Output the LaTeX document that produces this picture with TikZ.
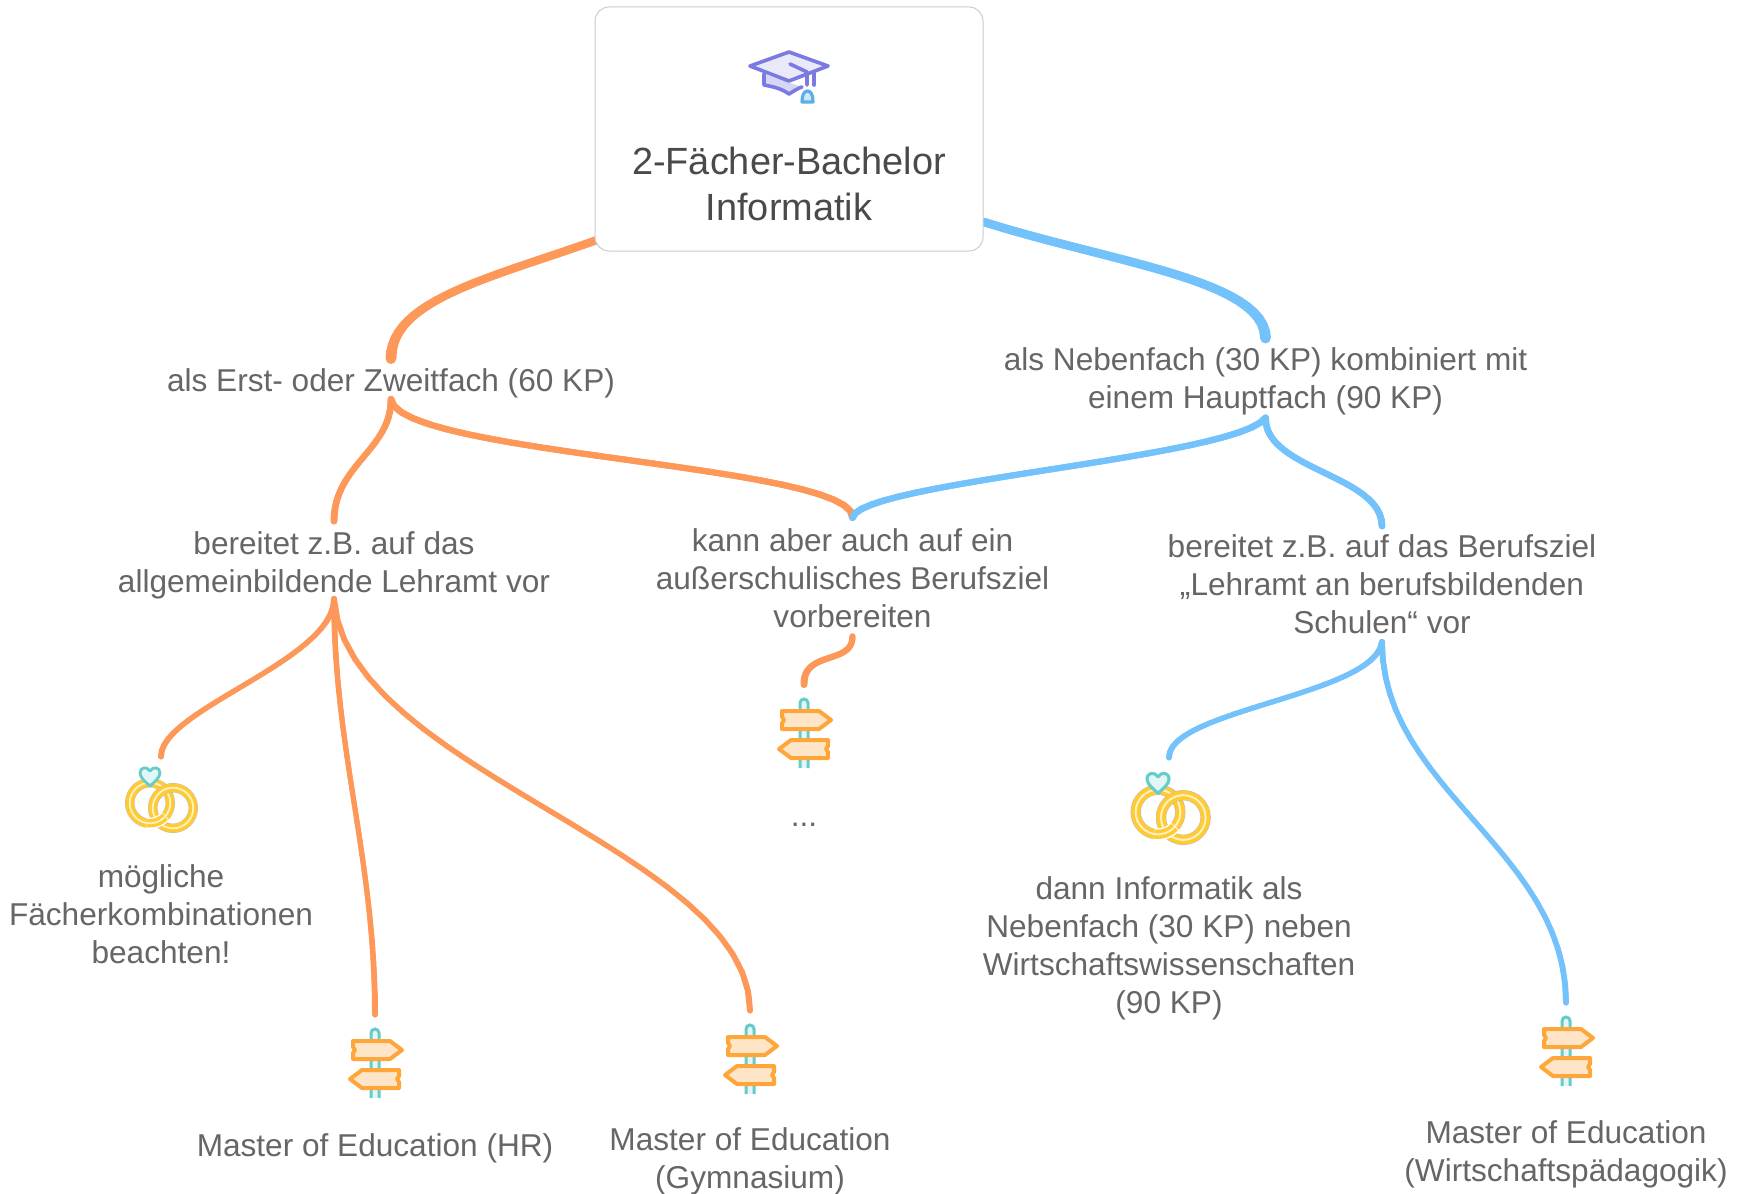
\documentclass[tikz,border=0pt]{standalone}
\usepackage{fontspec}
\setmainfont{Liberation Sans}
\definecolor{orangeline}{HTML}{FD9858}
\definecolor{blueline}{HTML}{73C2FB}
\definecolor{txtgray}{HTML}{666666}
\definecolor{rootgray}{HTML}{4A4A4A}
\definecolor{capline}{HTML}{7A7AE2}
\definecolor{capfill}{HTML}{E9E9FA}
\definecolor{capfilld}{HTML}{D6D6F5}
\definecolor{tassel}{HTML}{5CAEE8}
\definecolor{tasself}{HTML}{CFE8F9}
\definecolor{ringy}{HTML}{FFCB30}
\definecolor{ringl}{HTML}{FFF1C4}
\definecolor{teal}{HTML}{66CBCB}
\definecolor{teall}{HTML}{E3F6F6}
\definecolor{boardo}{HTML}{FFA63A}
\definecolor{boardf}{HTML}{FFE5C8}
\tikzset{
  x=0.5pt,y=-0.5pt,
  lbl/.style={text=txtgray,font=\fontsize{15.8}{19}\selectfont,align=center,inner sep=0pt},
  hub/.style={lbl,minimum width=40pt},
  iconbox/.style={inner sep=0pt,minimum width=38pt},
}
% tapered connector: colour, from, control 1, control 2, to, width at start, middle, end (in px)
\newcommand\taper[8]{%
  \draw[#1,line width=#7*0.5pt,line cap=round] (#2) .. controls (#3) and (#4) .. (#5);
  \foreach \i in {0,...,24}{\path (#2) .. controls (#3) and (#4) .. (#5) coordinate[pos=\i/24] (p\i);}
  \foreach \i in {1,...,24}{%
    \pgfmathsetmacro\tt{(\i-0.5)/24}%
    \pgfmathsetmacro\ww{#7+(#6-#7)*(1-\tt)^4+(#8-#7)*\tt^4}%
    \pgfmathtruncatemacro\jj{\i-1}%
    \draw[#1,line width=\ww*0.5pt,line cap=round] (p\jj) -- (p\i);
  }%
}
\newcommand\onering[3]{% centre, radius, scale
  \draw[black!25,line width=9.4*#3*0.5pt] (#1) circle[radius=#2];
  \draw[ringy,line width=8.4*#3*0.5pt] (#1) circle[radius=#2];
  \draw[ringl,line width=1.8*#3*0.5pt] (#1) circle[radius=#2];
}
\newcommand\rings[2]{% centre of ring 1 (x,y), scale
  \begin{scope}[shift={(#1)},scale=#2]
    \onering{0,0}{20.3}{#2}
    \onering{23,5}{20.3}{#2}
    \draw[white,line width=11*#2*0.5pt] (40:20.3) arc[start angle=40,end angle=100,radius=20.3];
    \draw[ringy,line width=8.4*#2*0.5pt] (42:20.3) arc[start angle=42,end angle=100,radius=20.3];
    \draw[ringl,line width=1.8*#2*0.5pt] (42:20.3) arc[start angle=42,end angle=100,radius=20.3];
    \fill[white] (0,-29) circle[radius=10];
    \draw[teal,fill=teall,line width=2.8*#2*0.5pt,line join=round]
      (0,-17) .. controls (-4,-21) and (-10,-25) .. (-10,-30)
      .. controls (-10,-36) and (-3,-37) .. (0,-32)
      .. controls (3,-37) and (10,-36) .. (10,-30)
      .. controls (10,-25) and (4,-21) .. (0,-17) -- cycle;
  \end{scope}
}
\newcommand\signpost[1]{% post top centre
  \begin{scope}[shift={(#1)}]
    \draw[teal,fill=teall,line width=1.5pt] (-4,69) -- (-4,4) arc[start angle=180,end angle=360,radius=4] -- (4,69);
    \draw[white,line width=1pt] (-4,69.5) -- (4,69.5);
    \draw[boardo,fill=boardf,line width=2pt,line join=round]
      (-22,12) -- (15,12) -- (27,21) -- (15,30) -- (-22,30) -- (-22,24) -- (-20,21) -- (-22,18) -- cycle;
    \draw[boardo,fill=boardf,line width=2pt,line join=round]
      (-13,41) -- (24,41) -- (24,47) -- (22,50) -- (24,53) -- (24,59) -- (-13,59) -- (-25,50) -- cycle;
  \end{scope}
}
\begin{document}
\begin{tikzpicture}
\useasboundingbox[fill=white] (0,0) rectangle (1744,1193);

% text nodes
\node[lbl,hub,minimum height=20pt] (erst) at (391,382.9) {als Erst- oder Zweitfach (60 KP)};
\node[lbl,hub,minimum height=39.5pt] (neben) at (1265.5,381.3) {als Nebenfach (30 KP) kombiniert mit\\einem Hauptfach (90 KP)};
\node[lbl,hub,minimum height=38.5pt] (lehramt) at (334,565) {bereitet z.B. auf das\\allgemeinbildende Lehramt vor};
\node[lbl,hub,minimum height=59pt] (kann) at (852.5,578) {kann aber auch auf ein\\außerschulisches Berufsziel\\vorbereiten};
\node[lbl,hub,minimum height=57.5pt] (beruf) at (1382,584.5) {bereitet z.B. auf das Berufsziel\\„Lehramt an berufsbildenden\\Schulen“ vor};

% leaf icon boxes
\node[iconbox,minimum height=46pt] (ringsA) at (161,803) {};
\node[iconbox,minimum height=58pt] (ringsB) at (1169,816) {};
\node[iconbox,minimum height=48pt] (signA) at (375,1063) {};
\node[iconbox,minimum height=48pt] (signB) at (750,1059) {};
\node[iconbox,minimum height=48pt] (signC) at (804,733) {};
\node[iconbox,minimum height=48pt] (signD) at (1566,1051) {};

% leaf labels
\node[lbl] (ringsAt) at (161,914.5) {mögliche\\Fächerkombinationen\\beachten!};
\node[lbl] (ringsBt) at (1169,948.4) {dann Informatik als\\Nebenfach (30 KP) neben\\Wirtschaftswissenschaften\\(90 KP)};
\node[lbl] (signAt) at (375,1148) {Master of Education (HR)};
\node[lbl] (signBt) at (750,1161.5) {Master of Education\\(Gymnasium)};
\node[lbl] (signCt) at (804,824.5) {...};
\node[lbl] (signDt) at (1566,1154.4) {Master of Education\\(Wirtschaftspädagogik)};

\coordinate (rootL) at (597,240);
\coordinate (rootR) at (984,222);

% connectors (ends sit on the nodes' top and bottom anchors, trimmed to the text block)
\taper{orangeline}{rootL}{490,278}{391,300}{[yshift=1.95pt]erst.north}{8}{8}{11}
\taper{blueline}{rootR}{1110,262}{1265,280}{[yshift=1.65pt]neben.north}{8}{8.5}{11}
\taper{orangeline}{[yshift=1.95pt]erst.south}{391,450}{334,465}{[yshift=2.5pt]lehramt.north}{7}{6}{7}
\taper{orangeline}{[yshift=1.95pt]erst.south}{398,455}{855,465}{[yshift=0.5pt]kann.north}{7}{6}{7}
\taper{blueline}{[yshift=1.65pt]neben.south}{1235,458}{860,482}{[yshift=0.5pt]kann.north}{7}{6}{7}
\taper{blueline}{[yshift=1.65pt]neben.south}{1265,470}{1382,475}{[yshift=0.25pt]beruf.north}{7}{6}{7}
\taper{orangeline}{[yshift=2.5pt]lehramt.south}{334,660}{160,710}{ringsA.north}{6}{5}{6}
\taper{orangeline}{[yshift=2.5pt]lehramt.south}{334,750}{375,860}{signA.north}{6}{5}{6}
\taper{orangeline}{[yshift=2.5pt]lehramt.south}{345,770}{750,850}{signB.north}{6}{5}{6}
\taper{orangeline}{[yshift=0.5pt]kann.south}{853,665}{803,650}{signC.north}{6}{6}{7}
\taper{blueline}{[yshift=0.25pt]beruf.south}{1375,695}{1168,710}{ringsB.north}{6}{5}{6}
\taper{blueline}{[yshift=0.25pt]beruf.south}{1382,790}{1566,850}{signD.north}{6}{5}{6}

% root
\node[draw=black!20,fill=white,line width=0.5pt,rounded corners=7pt,minimum width=194pt,minimum height=122pt,inner sep=0pt] (root) at (789,129) {};
\node[text=rootgray,font=\fontsize{18.95}{23}\selectfont,align=center,inner sep=0pt] (rootlbl) at (789,184) {2-Fächer-Bachelor\\Informatik};

% graduation cap
\draw[capline,fill=capfilld,line width=1.8pt,line join=round,line cap=round] (764,74) -- (764,85) .. controls (775,87) and (782,89) .. (789,94) .. controls (794,91) and (798,88) .. (802,87);
\draw[capline,fill=capfill,line width=1.8pt,line join=round] (750,66) -- (789,52) -- (828,66) -- (789,81) -- cycle;
\fill[white] (805.5,76) rectangle (810.5,90);
\draw[capline,line width=1.8pt,line cap=round,line join=round] (790,64) -- (807,72) -- (807,85);
\draw[capline,line width=1.8pt,line cap=round] (814,73) -- (814,85);
\draw[tassel,fill=tasself,line width=1.6pt,line join=round] (802,102) .. controls (802,95) and (804,91) .. (807.5,91) .. controls (811,91) and (813,95) .. (813,102) -- cycle;

% icons
\rings{150,803}{1}
\rings{1158,812}{1.1}
\signpost{375,1029}
\signpost{750,1025}
\signpost{804,699}
\signpost{1566,1017}
\end{tikzpicture}
\end{document}
